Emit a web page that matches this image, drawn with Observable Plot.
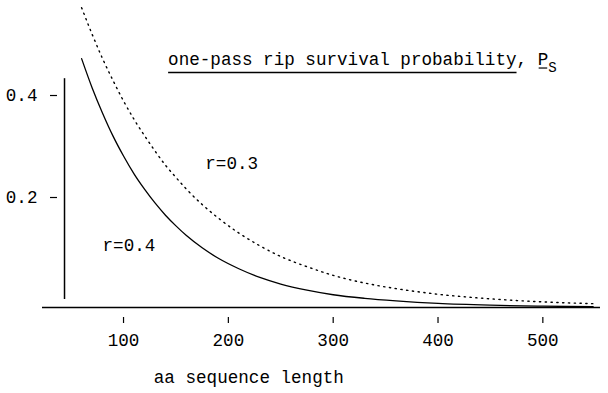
<!DOCTYPE html>
<html><head><meta charset="utf-8">
<script src="https://cdn.jsdelivr.net/npm/d3@7"></script>
<script src="https://cdn.jsdelivr.net/npm/@observablehq/plot@0.6"></script>
<style>
html,body{margin:0;padding:0;background:#fff;}
</style></head><body><div id="chart"></div>
<script>
// Data
const lengths      = [60, 70, 80, 90, 100, 110, 120, 130, 140, 150, 160, 175, 190, 210, 230, 250, 275, 300, 330, 360, 400, 450, 500, 548];
const survivalR04  = [0.488, 0.431, 0.381, 0.336, 0.297, 0.262, 0.232, 0.205, 0.181, 0.160, 0.141, 0.117, 0.097, 0.076, 0.059, 0.046, 0.034, 0.025, 0.018, 0.013, 0.008, 0.0045, 0.0025, 0.0015];
const survivalR03  = [0.588, 0.536, 0.488, 0.445, 0.405, 0.369, 0.337, 0.307, 0.279, 0.255, 0.232, 0.202, 0.176, 0.146, 0.121, 0.100, 0.080, 0.063, 0.048, 0.037, 0.026, 0.017, 0.011, 0.0075];
const xTicks = [100, 200, 300, 400, 500];
const yTicks = [0.2, 0.4];
const curveLabels = [
  {text: "r=0.3", x: 178, y: 0.282},
  {text: "r=0.4", x: 80, y: 0.122}
];
const titleMain = "one-pass rip survival probability";
const titleSymbol = "P";
const titleSub = "S";
const xLabel = "aa sequence length";

// layout constants
const xDomain = [22.7, 555];
const yDomain = [0, 0.602];
const yAxisAt = 43.7;
const yAxisTop = 0.433;
const titlePos = {x: 143, y: 0.4745};
const xLabelPos = {x: 220, y: -0.149};

const FONT = "'Liberation Mono', 'Courier New', monospace";
const rows04 = lengths.map((L, i) => ({L, p: survivalR04[i]}));
const rows03 = lengths.map((L, i) => ({L, p: survivalR03[i]}));

const plot = Plot.plot({
  width: 608, height: 393,
  marginLeft: 57, marginRight: 8, marginTop: 0, marginBottom: 76,
  style: {fontFamily: FONT, fontSize: "17.6px", background: "#fff", color: "#000", overflow: "visible"},
  x: {domain: xDomain, range: [42, 600]},
  y: {domain: yDomain, range: [307, 0]},
  marks: [
    Plot.ruleY([0], {x1: xDomain[0], x2: xDomain[1], stroke: "#000", strokeWidth: 1.5}),
    Plot.ruleX([yAxisAt], {y1: 0, y2: yAxisTop, dy: -8, stroke: "#000", strokeWidth: 1.5}),
    Plot.axisX(xTicks, {tickSize: 6, tickPadding: 10, label: null, strokeWidth: 1.2}),
    Plot.axisY(yTicks, {tickSize: 7, tickPadding: 13, dy: -8, label: null, strokeWidth: 1.2, tickFormat: d => d.toFixed(1)}),
    Plot.line(rows04, {x: "L", y: "p", stroke: "#000", strokeWidth: 1.3, curve: "monotone-x"}),
    Plot.line(rows03, {x: "L", y: "p", stroke: "#000", strokeWidth: 1.4, strokeDasharray: "1.3,4.5", curve: "monotone-x"}),
    Plot.text(curveLabels, {x: "x", y: "y", text: "text", textAnchor: "start", fill: "#000"})
  ]
});
document.getElementById("chart").appendChild(plot);

const sx = plot.scale("x"), sy = plot.scale("y");
const svg = d3.select(plot);
// Title with underline and subscript
const tx = sx.apply(titlePos.x), ty = sy.apply(titlePos.y);
const title = svg.append("text")
  .attr("x", tx).attr("y", ty)
  .attr("text-anchor", "start")
  .attr("font-family", FONT).attr("font-size", "17.6px").attr("fill", "#000");
const tMain = title.append("tspan").text(titleMain);
title.append("tspan").text(", ");
const tP = title.append("tspan").text(titleSymbol);
title.append("tspan").attr("font-size", "14px").attr("dy", 7).text(titleSub);
const mainLen = tMain.node().getComputedTextLength();
svg.append("line").attr("x1", tx).attr("x2", tx + mainLen)
  .attr("y1", ty + 7.5).attr("y2", ty + 7.5).attr("stroke", "#000").attr("stroke-width", 1.3);
const pStart = tx + title.node().getSubStringLength(0, titleMain.length + 2);
const pLen = tP.node().getComputedTextLength();
svg.append("line").attr("x1", pStart + 1).attr("x2", pStart + pLen - 1)
  .attr("y1", ty + 3).attr("y2", ty + 3).attr("stroke", "#000").attr("stroke-width", 1.2);

// x label
svg.append("text")
  .attr("x", sx.apply(xLabelPos.x)).attr("y", sy.apply(xLabelPos.y))
  .attr("text-anchor", "middle")
  .attr("font-family", FONT).attr("font-size", "17.6px").attr("fill", "#000")
  .text(xLabel);
</script>
</body></html>
